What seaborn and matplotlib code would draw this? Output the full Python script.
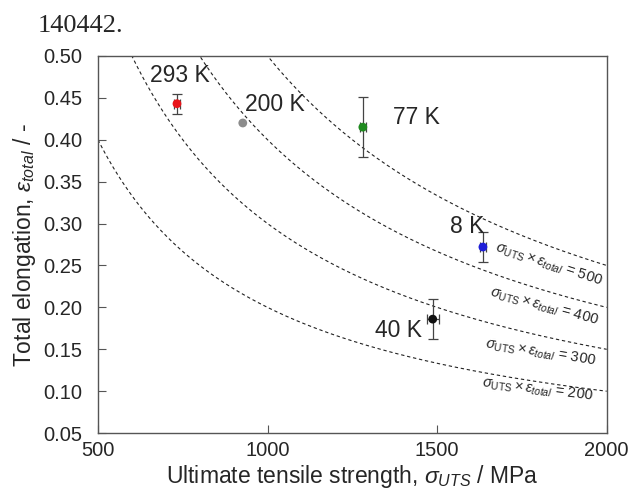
import numpy as np
import pandas as pd
import seaborn as sns
import matplotlib.pyplot as plt

# measured points
temps = ['293 K', '200 K', '77 K', '8 K', '40 K']
uts = [733, 927, 1281, 1635, 1487]
elong = [0.443, 0.420, 0.415, 0.272, 0.186]
uts_err = [10, 0, 8, 8, 18]
elong_err = [0.012, 0, 0.036, 0.018, 0.024]
colors = ['#e8141a', '#8c8c8c', '#1f8a1f', '#1f1fd8', '#111111']

# constant product curves sigma * eps = C
products = [200, 300, 400, 500]

sns.set_style('ticks')
plt.rcParams['font.family'] = ['Liberation Sans', 'DejaVu Sans']
plt.rcParams['mathtext.fontset'] = 'custom'
plt.rcParams['mathtext.rm'] = 'Liberation Sans'
plt.rcParams['mathtext.it'] = 'Liberation Sans:italic'

fig, ax = plt.subplots(figsize=(6.32, 4.95), dpi=100)
fig.subplots_adjust(left=0.155, right=0.960, top=0.887, bottom=0.125)

xs = np.linspace(500, 2000, 300)
for c in products:
    curve = pd.DataFrame({'x': xs, 'y': c / xs})
    sns.lineplot(data=curve, x='x', y='y', ax=ax, color='#222222',
                 linestyle=(0, (3, 2.5)), linewidth=0.8)

df = pd.DataFrame({'T': temps, 'uts': uts, 'el': elong})
for i in range(len(temps)):
    if uts_err[i] > 0:
        ax.errorbar(uts[i], elong[i], xerr=uts_err[i], yerr=elong_err[i],
                    fmt='none', ecolor='#444444', elinewidth=0.9,
                    capsize=3.5, capthick=0.9, zorder=3)
sns.scatterplot(data=df, x='uts', y='el', hue='T', palette=colors, s=40,
                edgecolor='none', legend=False, ax=ax, zorder=4)

# temperature labels
lab_pos = {'293 K': (653, 0.477), '200 K': (933, 0.442), '77 K': (1369, 0.427),
           '8 K': (1537, 0.297), '40 K': (1316, 0.173)}
for t, (x, y) in lab_pos.items():
    ax.text(x, y, t, fontsize=16.5, va='center', ha='left')

# product labels
prod_pos = {500: (1672, 0.272, -18), 400: (1657, 0.218, -15),
            300: (1643, 0.156, -9), 200: (1631, 0.110, -7)}
for c, (x, y, r) in prod_pos.items():
    ax.text(x, y, r'$\sigma_{\rm UTS}\times\varepsilon_{total}$ = %d' % c,
            fontsize=10.5, rotation=r, rotation_mode='anchor', va='center', ha='left')

ax.set_xlim(500, 2000)
ax.set_ylim(0.05, 0.50)
ax.set_xticks([500, 1000, 1500, 2000])
ax.set_yticks(np.arange(0.05, 0.501, 0.05))
ax.set_yticklabels(['%.2f' % v for v in np.arange(0.05, 0.501, 0.05)])
ax.tick_params(direction='in', labelsize=14.5, length=6, color='#555555',
               top=False, right=False)
ax.tick_params(axis='y', pad=11)
ax.tick_params(axis='x', pad=6)
for s in ax.spines.values():
    s.set_color('#555555')
    s.set_linewidth(1.0)
ax.set_xlabel(r'Ultimate tensile strength, $\sigma_{UTS}$ / MPa', fontsize=16.5, labelpad=2)
ax.set_ylabel(r'Total elongation, $\varepsilon_{total}$ / -', fontsize=16.5, labelpad=4)

fig.text(0.06, 0.935, '140442.', fontsize=19, family='Liberation Serif', va='baseline')

fig.savefig('out.png', dpi=100)
